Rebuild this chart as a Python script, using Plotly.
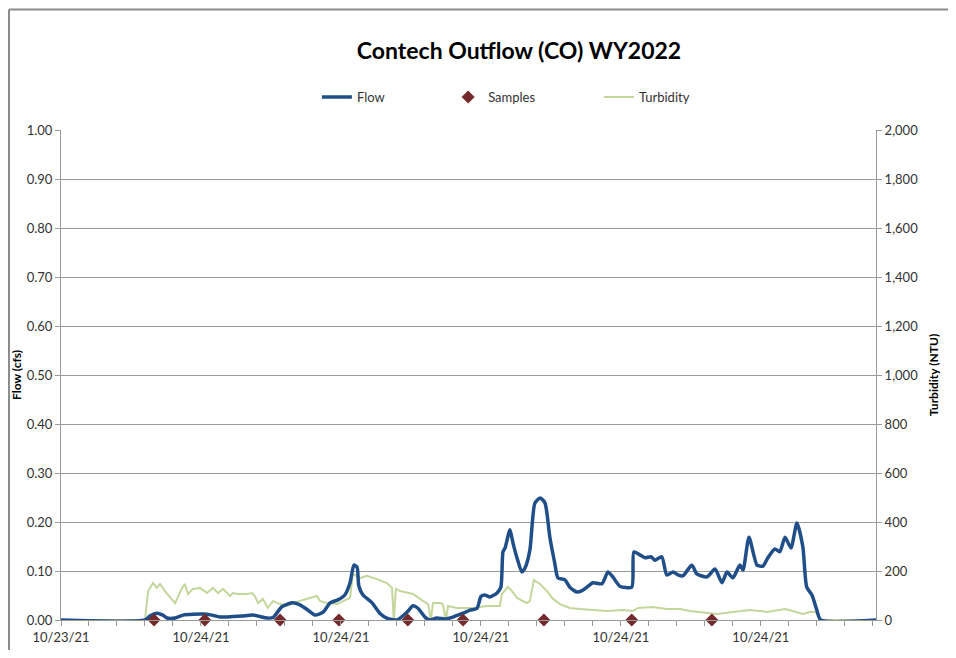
import pandas as pd
import plotly.graph_objects as go

# ---------------- data (hours after 10/23/21 20:00) ----------------
start = pd.Timestamp("2021-10-23 20:00")
axis_hours = 23.29

flow_hours = [0, 2.4, 2.54, 2.74, 2.91, 3.03, 3.26, 3.49, 4.06, 4.31, 4.54, 4.91, 5.17, 5.49, 5.69,
              5.89, 6.06, 6.31, 6.6, 6.83, 7.06, 7.26, 7.49, 7.69, 7.91, 8.11, 8.26, 8.37, 8.46, 8.51,
              8.63, 8.89, 9.11, 9.31, 9.6, 9.89, 10.06, 10.2, 10.4, 10.54, 10.74, 10.97, 11.2, 11.49,
              11.69, 11.89, 12.0, 12.11, 12.26, 12.46, 12.57, 12.63, 12.69, 12.83, 12.91, 13.03,
              13.17, 13.26, 13.4, 13.54, 13.69, 13.83, 13.97, 14.11, 14.2, 14.4, 14.54, 14.74,
              14.89, 15.03, 15.2, 15.46, 15.63, 15.77, 15.97, 16.31, 16.37, 16.54, 16.69, 16.86,
              16.97, 17.17, 17.31, 17.49, 17.63, 17.77, 18.03, 18.17, 18.46, 18.69, 18.89, 19.03,
              19.2, 19.4, 19.49, 19.66, 19.89, 20.06, 20.2, 20.4, 20.54, 20.69, 20.86, 21.03, 21.2,
              21.31, 21.46, 21.6, 21.71, 23.29]
flow_cfs = [0, 0, 0.008, 0.014, 0.01, 0.004, 0.004, 0.01, 0.012, 0.01, 0.006, 0.007, 0.008, 0.01,
            0.007, 0.004, 0.005, 0.027, 0.035, 0.031, 0.02, 0.01, 0.016, 0.035, 0.041, 0.051, 0.076,
            0.112, 0.108, 0.07, 0.051, 0.035, 0.014, 0.004, 0, 0.016, 0.029, 0.024, 0.006, 0, 0.004,
            0.002, 0.006, 0.014, 0.02, 0.024, 0.048, 0.051, 0.047, 0.055, 0.067, 0.139, 0.147,
            0.184, 0.159, 0.127, 0.098, 0.106, 0.143, 0.238, 0.249, 0.239, 0.169, 0.116, 0.086,
            0.082, 0.067, 0.057, 0.06, 0.067, 0.076, 0.074, 0.098, 0.088, 0.069, 0.067, 0.139,
            0.133, 0.127, 0.129, 0.122, 0.129, 0.092, 0.098, 0.092, 0.09, 0.112, 0.094, 0.088,
            0.104, 0.076, 0.098, 0.086, 0.112, 0.102, 0.169, 0.112, 0.11, 0.127, 0.145, 0.139,
            0.169, 0.147, 0.198, 0.149, 0.067, 0.051, 0.02, 0, 0]

turb_hours = [0, 2.4, 2.49, 2.63, 2.74, 2.83, 2.97, 3.26, 3.46, 3.54,
              3.63, 3.77, 3.97, 4.17, 4.34, 4.49, 4.63, 4.83, 4.91, 5.06,
              5.31, 5.46, 5.54, 5.63, 5.77, 5.91, 6.06, 6.26, 6.46, 6.63,
              6.83, 7.11, 7.31, 7.4, 7.6, 7.89, 8.26, 8.34, 8.54, 8.74,
              9.03, 9.31, 9.46, 9.51, 9.57, 9.69, 9.89, 10.06, 10.34, 10.49,
              10.57, 10.63, 10.83, 10.91, 11.0, 11.06, 11.31, 11.77, 12.17, 12.54,
              12.6, 12.77, 12.89, 13.03, 13.31, 13.4, 13.51, 13.69, 13.89, 14.06,
              14.26, 14.54, 14.83, 15.11, 15.6, 16.06, 16.34, 16.49, 16.89, 17.31,
              17.69, 17.97, 18.46, 18.74, 19.2, 19.69, 20.17, 20.46, 20.69, 20.91,
              21.2, 21.4, 21.57, 21.69, 23.29]
turb_ntu = [0, 0, 118, 151, 131, 147, 118, 69, 131, 147,
            106, 127, 131, 110, 131, 110, 127, 98, 110, 106,
            106, 110, 98, 69, 86, 49, 78, 65, 57, 69,
            78, 90, 98, 78, 69, 65, 90, 188, 171, 180,
            167, 151, 131, 0, 127, 118, 110, 106, 78, 65,
            0, 69, 69, 65, 0, 57, 49, 49, 57, 57,
            106, 135, 118, 90, 69, 78, 163, 147, 118, 86,
            65, 49, 45, 41, 37, 41, 37, 49, 53, 45,
            45, 37, 29, 25, 33, 41, 33, 41, 45, 37,
            25, 33, 33, 0, 0]

sample_hours = [2.66, 4.11, 6.26, 7.94, 9.91, 11.49, 13.8, 16.31, 18.6]
sample_vals = [0, 0, 0, 0, 0, 0, 0, 0, 0]

flow_ticks = [0, 0.1, 0.2, 0.3, 0.4, 0.5, 0.6, 0.7, 0.8, 0.9, 1.0]
turb_ticks = [0, 200, 400, 600, 800, 1000, 1200, 1400, 1600, 1800, 2000]


def to_time(hours):
    return [start + pd.Timedelta(hours=h) for h in hours]


FONT = "Lato, 'Open Sans', sans-serif"
GRID = "#9a9a9a"
LEG_FONT = dict(size=13, color="#333333")

fig = go.Figure()
fig.add_trace(go.Scatter(x=to_time(turb_hours), y=turb_ntu, mode="lines", name="Turbidity",
                         line=dict(color="#C3D69B", width=2), yaxis="y", legend="legend3"))
fig.add_trace(go.Scatter(x=to_time(flow_hours), y=flow_cfs, mode="lines", name="Flow",
                         line=dict(color="#1F4E88", width=3.5, shape="spline", smoothing=0.6),
                         yaxis="y2", legend="legend"))
fig.add_trace(go.Scatter(x=to_time(sample_hours), y=sample_vals, mode="markers", name="Samples",
                         marker=dict(symbol="diamond", color="#742A2A", size=10),
                         yaxis="y2", cliponaxis=False, legend="legend2"))

leg_common = dict(orientation="h", y=1.067, xanchor="left", yanchor="middle",
                  font=LEG_FONT, bgcolor="rgba(0,0,0,0)")

fig.update_layout(
    width=940, height=642,
    margin=dict(l=53, r=72, t=122, b=30),
    paper_bgcolor="white", plot_bgcolor="white",
    font=dict(family=FONT, size=13, color="#333333"),
    title=dict(text="<b>Contech Outflow (CO) WY2022</b>", x=511 / 940, xanchor="center",
               y=1 - 42.8 / 642, yanchor="middle", font=dict(size=23, color="#000000", family=FONT)),
    legend=dict(x=0.314, **leg_common),
    legend2=dict(x=0.475, **leg_common),
    legend3=dict(x=0.660, **leg_common),
    showlegend=True,
    xaxis=dict(type="date", range=[start, start + pd.Timedelta(hours=axis_hours)],
               tick0=start, dtick=4 * 3600 * 1000, tickformat="%m/%d/%y", automargin=False,
               showgrid=False, showline=True, linecolor=GRID, linewidth=1,
               ticks="outside", ticklen=5, tickcolor=GRID, zeroline=False,
               minor=dict(dtick=48 * 60 * 1000, ticks="outside", ticklen=5, tickcolor=GRID,
                          showgrid=False),
               tickfont=dict(size=13, color="#333333")),
    yaxis=dict(range=[0, 2000], side="right", tickvals=turb_ticks, tickformat=",d",
               automargin=False,
               showgrid=True, gridcolor=GRID, gridwidth=1, showline=True, linecolor=GRID,
               ticks="outside", ticklen=5, tickcolor=GRID, zeroline=False,
               title=dict(text="<b>Turbidity (NTU)</b>", font=dict(size=12, color="#000000"),
                          standoff=12),
               tickfont=dict(size=13, color="#333333")),
    yaxis2=dict(range=[0, 1], side="left", overlaying="y", tickvals=flow_ticks, tickformat=".2f",
                automargin=False,
                showgrid=False, showline=True, linecolor=GRID, ticks="outside", ticklen=5,
                tickcolor=GRID, zeroline=False,
                title=dict(text="<b>Flow (cfs)</b>", font=dict(size=12, color="#000000"),
                           standoff=2),
                tickfont=dict(size=13, color="#333333")),
)

# chart-area border: only the left and top edges are visible in the reference
border = dict(color="#8c8c8c", width=2)
bx0 = (9 - 61) / 815
by1 = (620 - 9.5) / 490
fig.add_shape(type="line", xref="paper", yref="paper", x0=bx0, x1=bx0,
              y0=(620 - 700) / 490, y1=by1, line=border, layer="below")
fig.add_shape(type="line", xref="paper", yref="paper", x0=bx0, x1=(960 - 61) / 815,
              y0=by1, y1=by1, line=border, layer="below")

fig.write_html("out.html")
